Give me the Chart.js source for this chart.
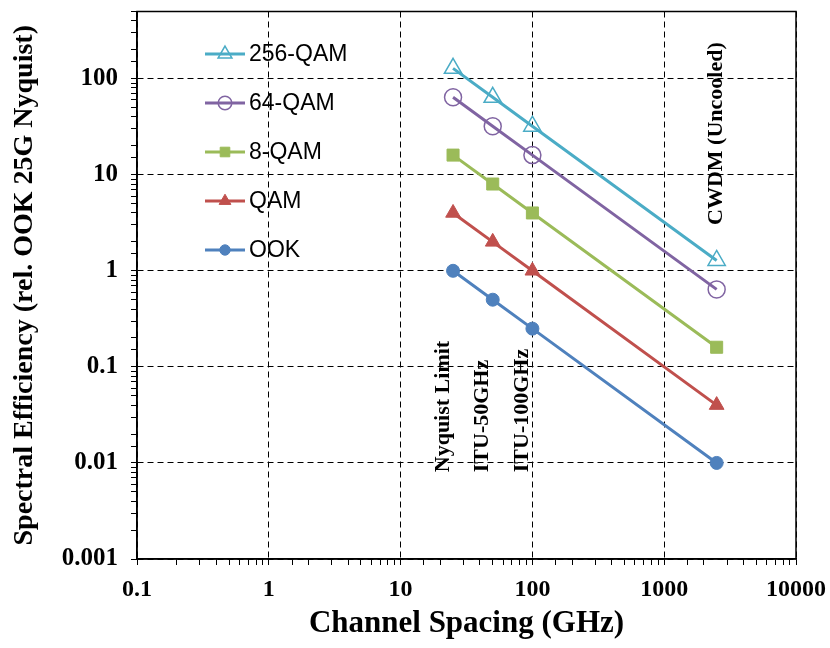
<!DOCTYPE html>
<html>
<head>
<meta charset="utf-8">
<script src="https://cdn.jsdelivr.net/npm/chart.js@4.4.0/dist/chart.umd.min.js"></script>
<style>
  html, body { margin: 0; padding: 0; background: #fff; }
  #wrap { width: 830px; height: 648px; }
</style>
</head>
<body>
<div id="wrap"><canvas id="chart1"></canvas></div>
<script>
// channel spacing (GHz) of the four points on every curve
const spacing = [25, 50, 100, 2500];
// spectral efficiency, relative to OOK at 25G Nyquist
const qam256 = [128, 64, 32, 1.28];
const qam64 = [64, 32, 16, 0.64];
const qam8 = [16, 8, 4, 0.16];
const qam = [4, 2, 1, 0.04];
const ook = [1, 0.5, 0.25, 0.01];
const seriesNames = ['256-QAM', '64-QAM', '8-QAM', 'QAM', 'OOK'];
const seriesValues = [qam256, qam64, qam8, qam, ook];
// vertical notes and where they sit (x in GHz, y = value at the text's lower end)
const noteLabels = ['Nyquist Limit', 'ITU-50GHz', 'ITU-100GHz', 'CWDM (Uncooled)'];
const noteX = [25, 50, 100, 2500];
const noteY = [0.008, 0.008, 0.008, 3];

const serif = '"Liberation Serif", "Times New Roman", serif';
const styles = [
    { color: '#4BACC6', shape: 'triangle', filled: false, r: 10 },
    { color: '#8064A2', shape: 'circle', filled: false, r: 8.5 },
    { color: '#9BBB59', shape: 'rect', filled: true, r: 8.5 },
    { color: '#C0504D', shape: 'triangle', filled: true, r: 8.5 },
    { color: '#4F81BD', shape: 'circle', filled: true, r: 6.5 }
];

const isDecade = v => Math.abs(Math.log10(v) - Math.round(Math.log10(v))) < 1e-6;
const decadeLabel = v => isDecade(v) ? String(Number(v.toPrecision(6))) : '';

const datasets = seriesNames.map((name, i) => ({
    label: name,
    data: spacing.map((x, j) => ({ x: x, y: seriesValues[i][j] })),
    borderColor: styles[i].color,
    backgroundColor: styles[i].color,
    borderWidth: 3,
    tension: 0,
    pointStyle: styles[i].shape,
    pointRadius: styles[i].r,
    pointHoverRadius: styles[i].r,
    pointBorderWidth: styles[i].filled ? 1 : 1.5,
    pointBorderColor: styles[i].color,
    pointBackgroundColor: styles[i].filled ? styles[i].color : 'rgba(0,0,0,0)'
}));

// box round the plot + notes + legend inside the plot
const extras = {
    id: 'extras',
    afterDraw(chart) {
        const { ctx, chartArea: a, scales } = chart;
        ctx.save();
        ctx.strokeStyle = '#000';
        ctx.lineWidth = 1.5;
        ctx.strokeRect(a.left, a.top, a.right - a.left, a.bottom - a.top);

        ctx.fillStyle = '#000';
        ctx.font = 'bold 22px ' + serif;
        ctx.textAlign = 'left';
        ctx.textBaseline = 'middle';
        noteLabels.forEach((txt, i) => {
            const px = scales.x.getPixelForValue(noteX[i]) + (i < 3 ? -10 : 0);
            const py = scales.y.getPixelForValue(noteY[i]);
            ctx.save();
            ctx.translate(px, py);
            ctx.rotate(-Math.PI / 2);
            ctx.fillText(txt, 0, 0);
            ctx.restore();
        });

        chart.data.datasets.forEach((ds, i) => {
            const y = 54 + i * 49;
            ctx.strokeStyle = ds.borderColor;
            ctx.lineWidth = 3;
            ctx.beginPath();
            ctx.moveTo(205, y);
            ctx.lineTo(245, y);
            ctx.stroke();
            ctx.fillStyle = ds.pointBackgroundColor;
            ctx.lineWidth = ds.pointBorderWidth;
            Chart.helpers.drawPoint(ctx, {
                pointStyle: ds.pointStyle,
                radius: ds.pointRadius * 0.8,
                rotation: 0,
                borderWidth: ds.pointBorderWidth
            }, 225, y);
            ctx.fillStyle = '#000';
            ctx.font = '23px "Liberation Sans", Arial, sans-serif';
            ctx.textAlign = 'left';
            ctx.textBaseline = 'middle';
            ctx.fillText(ds.label, 249, y + 1);
        });
        ctx.restore();
    }
};

const gridColor = c => (c.tick && isDecade(c.tick.value)) ? '#000' : 'rgba(0,0,0,0)';

// fixed plot box: no extra room asked for by edge labels
const fitX = s => {
    s.height = 89;
    s.paddingLeft = 0; s.paddingRight = 0; s.paddingTop = 0; s.paddingBottom = 0;
};
const fitY = s => {
    s.width = 137;
    s.paddingLeft = 0; s.paddingRight = 0; s.paddingTop = 0; s.paddingBottom = 0;
};

const ctx1 = document.getElementById('chart1').getContext('2d');
const chart1 = new Chart(ctx1, {
    type: 'line',
    data: { datasets: datasets },
    options: {
        responsive: true,
        maintainAspectRatio: false,
        animation: false,
        layout: { padding: { top: 5, right: 34, left: 0, bottom: 0 } },
        plugins: {
            legend: { display: false },
            tooltip: { enabled: false }
        },
        scales: {
            x: {
                type: 'logarithmic',
                position: 'bottom',
                min: 0.1,
                max: 10000,
                afterFit: fitX,
                border: { display: true, color: '#000', width: 1.5, dash: [6, 4] },
                grid: {
                    color: gridColor,
                    lineWidth: 1,
                    tickColor: '#000',
                    tickLength: 6,
                    tickWidth: 1,
                    tickBorderDash: []
                },
                ticks: {
                    autoSkip: false,
                    maxRotation: 0,
                    padding: 10,
                    color: '#000',
                    font: { family: serif, size: 24, weight: 'bold' },
                    callback: v => decadeLabel(v)
                },
                title: {
                    display: true,
                    text: 'Channel Spacing (GHz)',
                    color: '#000',
                    font: { family: serif, size: 31, weight: 'bold' },
                    padding: { top: 0, bottom: 5 }
                }
            },
            y: {
                type: 'logarithmic',
                min: 0.001,
                max: 500,
                afterFit: fitY,
                border: { display: true, color: '#000', width: 1.5, dash: [6, 4] },
                grid: {
                    color: gridColor,
                    lineWidth: 1,
                    tickColor: '#000',
                    tickLength: 6,
                    tickWidth: 1,
                    tickBorderDash: []
                },
                ticks: {
                    autoSkip: false,
                    padding: 13,
                    color: '#000',
                    font: { family: serif, size: 25, weight: 'bold' },
                    callback: v => decadeLabel(v)
                },
                title: {
                    display: true,
                    text: 'Spectral Efficiency (rel. OOK 25G Nyquist)',
                    color: '#000',
                    font: { family: serif, size: 28, weight: 'bold' },
                    padding: { top: 8, bottom: 0 }
                }
            }
        }
    },
    plugins: [extras]
});
</script>
</body>
</html>
